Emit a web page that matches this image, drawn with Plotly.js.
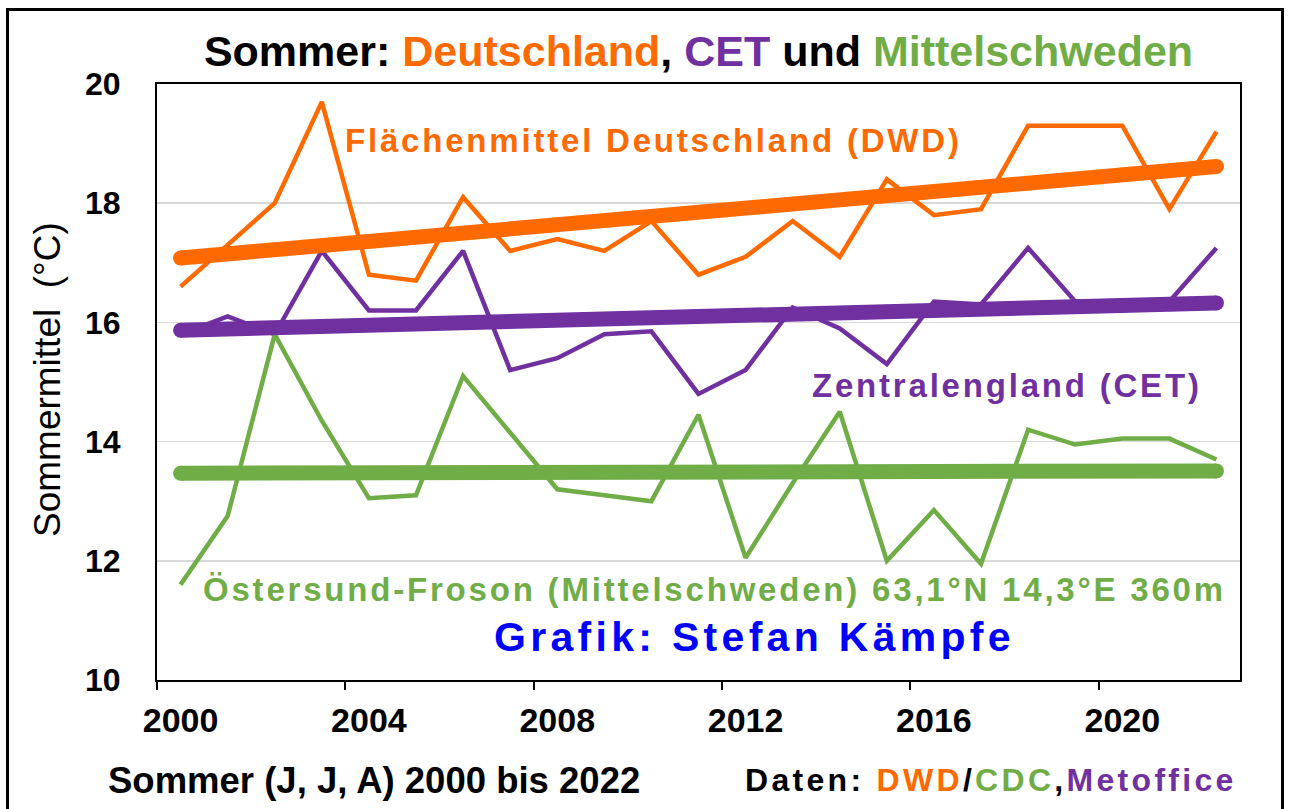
<!DOCTYPE html>
<html>
<head>
<meta charset="utf-8">
<script src="https://cdn.plot.ly/plotly-3.0.1.min.js"></script>
<style>
  html, body { margin: 0; padding: 0; background: #fff; }
  #wrap { position: relative; width: 1291px; height: 809px; overflow: hidden; }
  #chart { width: 1291px; height: 809px; }
  #frame { position: absolute; left: 6px; top: 8px; width: 1278px; height: 820px;
           border: 3px solid #000; pointer-events: none; box-sizing: border-box; }
</style>
</head>
<body>
<div id="wrap">
  <div id="chart"></div>
  <div id="frame"></div>
</div>
<script>
// ---- data ----
const years = [2000, 2001, 2002, 2003, 2004, 2005, 2006, 2007, 2008, 2009, 2010, 2011,
               2012, 2013, 2014, 2015, 2016, 2017, 2018, 2019, 2020, 2021, 2022];
const dwdGermany = [16.6, 17.3, 18.0, 19.7, 16.8, 16.7, 18.1, 17.2, 17.4, 17.2, 17.7, 16.8,
                    17.1, 17.7, 17.1, 18.4, 17.8, 17.9, 19.3, 19.3, 19.3, 17.9, 19.2];
const cetEngland = [15.8, 16.1, 15.8, 17.2, 16.2, 16.2, 17.2, 15.2, 15.4, 15.8, 15.85, 14.8,
                    15.2, 16.25, 15.9, 15.3, 16.35, 16.3, 17.25, 16.35, 16.2, 16.35, 17.25];
const ostersund = [11.6, 12.75, 15.8, 14.35, 13.05, 13.1, 15.1, 14.15, 13.2, 13.1, 13.0, 14.45,
                   12.05, 13.3, 14.5, 12.0, 12.85, 11.95, 14.2, 13.95, 14.05, 14.05, 13.7];
const yTicks = [10, 12, 14, 16, 18, 20];
const xTicks = [2000, 2004, 2008, 2012, 2016, 2020];

const cOrange = '#FF6A00', cPurple = '#7030A0', cGreen = '#70AD47', cBlue = '#0000FF';
const FONT = 'Liberation Sans, Arial, sans-serif';

// summer means sit in the middle of each year slot
const xs = years.map(y => y + 0.5);

function trend(vals) {
  const n = vals.length;
  const mx = xs.reduce((a, b) => a + b, 0) / n;
  const my = vals.reduce((a, b) => a + b, 0) / n;
  let sxy = 0, sxx = 0;
  for (let i = 0; i < n; i++) { sxy += (xs[i] - mx) * (vals[i] - my); sxx += (xs[i] - mx) ** 2; }
  const b = sxy / sxx, a = my - b * mx;
  const ex = [xs[0], xs[n - 1]];
  return { x: ex, y: ex.map(v => a + b * v) };
}

function dataLine(vals, color) {
  return { x: xs, y: vals, type: 'scatter', mode: 'lines',
           line: { color: color, width: 4.5 }, hoverinfo: 'skip', showlegend: false };
}
function trendLine(vals, color) {
  const t = trend(vals);
  return { x: t.x, y: t.y, type: 'scatter', mode: 'lines+markers',
           line: { color: color, width: 15 }, marker: { color: color, size: 15 },
           hoverinfo: 'skip', showlegend: false };
}

const traces = [
  dataLine(dwdGermany, cOrange),
  dataLine(cetEngland, cPurple),
  dataLine(ostersund, cGreen),
  trendLine(dwdGermany, cOrange),
  trendLine(cetEngland, cPurple),
  trendLine(ostersund, cGreen)
];

const L = 157, R = 1240, T = 84, B = 680;
const px = v => (v - L) / (R - L);
const py = v => (B - v) / (B - T);

function sp(txt, color, ls) {
  return '<span style="fill:' + color + ';letter-spacing:' + ls + 'px">' + txt + '</span>';
}

const annotations = [
  { text: sp('Flächenmittel Deutschland (DWD)', cOrange, 2.8), x: px(653.5), y: py(140),
    font: { size: 33, color: cOrange, family: FONT, weight: 'bold' } },
  { text: sp('Zentralengland (CET)', cPurple, 2.8), x: px(1007), y: py(385),
    font: { size: 33, color: cPurple, family: FONT, weight: 'bold' } },
  { text: sp('Östersund-Froson (Mittelschweden) 63,1°N 14,3°E 360m', cGreen, 2.8), x: px(714), y: py(589),
    font: { size: 33, color: cGreen, family: FONT, weight: 'bold' } },
  { text: sp('Grafik: Stefan Kämpfe', cBlue, 4.3), x: px(754.5), y: py(637),
    font: { size: 41, color: cBlue, family: FONT, weight: 'bold' } },
  { text: 'Sommer (J, J, A) 2000 bis 2022', x: px(374), y: py(780),
    font: { size: 36.5, color: '#000', family: FONT, weight: 'bold' } },
  { text: sp('Daten: ', '#000', 3.3) + sp('DWD', cOrange, 3.3) + sp('/', '#000', 3.3) +
          sp('CDC', cGreen, 3.3) + sp(',', '#000', 3.3) + sp('Metoffice', cPurple, 3.3),
    x: px(991), y: py(780),
    font: { size: 32, color: '#000', family: FONT, weight: 'bold' } },
  { text: 'Sommermittel  (°C)', x: px(48), y: py(380), textangle: -90,
    font: { size: 37, color: '#000', family: FONT } }
].map(a => Object.assign({ xref: 'paper', yref: 'paper', xanchor: 'center', yanchor: 'middle',
                           showarrow: false }, a));

const layout = {
  width: 1291, height: 809,
  margin: { l: L, r: 1291 - R, t: T, b: 809 - B, pad: 0 },
  paper_bgcolor: '#fff', plot_bgcolor: '#fff',
  title: {
    text: '<span style="fill:#000">Sommer: </span><span style="fill:' + cOrange + '">Deutschland</span>' +
          '<span style="fill:#000">, </span><span style="fill:' + cPurple + '">CET</span>' +
          '<span style="fill:#000"> und </span><span style="fill:' + cGreen + '">Mittelschweden</span>',
    x: 698.5 / 1291, xref: 'container', xanchor: 'center',
    y: 1 - 51 / 809, yref: 'container', yanchor: 'middle',
    font: { size: 43, family: FONT, weight: 'bold', color: '#000' }
  },
  // tick marks at the year boundaries
  xaxis: {
    range: [2000, 2023], tickvals: xTicks, showticklabels: false,
    ticks: 'outside', ticklen: 8, tickwidth: 2, tickcolor: '#000',
    showline: true, linecolor: '#000', linewidth: 2, mirror: true,
    showgrid: false, zeroline: false
  },
  // labels centred in the year slot (Excel style)
  xaxis2: {
    overlaying: 'x', side: 'bottom', range: [2000, 2023],
    tickvals: xTicks.map(v => v + 0.5), ticktext: xTicks.map(String),
    ticks: 'outside', ticklen: 8, tickcolor: 'rgba(0,0,0,0)',
    showline: false, showgrid: false, zeroline: false, ticklabelstandoff: 2,
    tickfont: { size: 34, family: FONT, weight: 'bold', color: '#000' }
  },
  yaxis: {
    range: [10, 20], tickvals: yTicks, ticktext: yTicks.map(String),
    ticks: '', showline: true, linecolor: '#000', linewidth: 2, mirror: true,
    showgrid: true, gridcolor: '#D9D9D9', gridwidth: 1.5, zeroline: false,
    ticklabelstandoff: 28,
    tickfont: { size: 32, family: FONT, weight: 'bold', color: '#000' }
  },
  annotations: annotations,
  showlegend: false
};

// an invisible trace so the label axis is drawn
traces.push({ x: [2000, 2023], y: [10, 10], xaxis: 'x2', yaxis: 'y', type: 'scatter', mode: 'lines',
              line: { color: 'rgba(0,0,0,0)', width: 0 }, hoverinfo: 'skip', showlegend: false });

Plotly.newPlot('chart', traces, layout, { staticPlot: true, displayModeBar: false });
</script>
</body>
</html>
